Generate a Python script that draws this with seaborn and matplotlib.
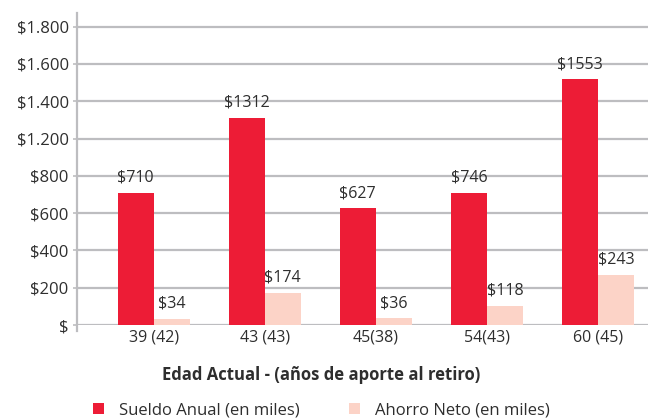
import numpy as np
import pandas as pd
import matplotlib
matplotlib.use("Agg")
import matplotlib.pyplot as plt
import seaborn as sns
from matplotlib.patches import Patch

# ---- data ----
categories = ["39 (42)", "43 (43)", "45(38)", "54(43)", "60 (45)"]
sueldo_bar = [710, 1312, 627, 710, 1519]      # drawn bar heights (as read)
ahorro_bar = [34, 174, 36, 102, 270]
sueldo_lbl = ["$710", "$1312", "$627", "$746", "$1553"]
ahorro_lbl = ["$34", "$174", "$36", "$118", "$243"]
series_names = ["Sueldo Anual (en miles)", "Ahorro Neto (en miles)"]
ytick_values = [0, 200, 400, 600, 800, 1200, 1400, 1600, 1800]
ytick_labels = ["$", "$200", "$400", "$600", "$800", "$1.200", "$1.400", "$1.600", "$1.800"]
xlabel_text = "Edad Actual - (años de aporte al retiro)"

RED = "#ED1C36"
PINK = "#FCD3C7"
TXT = "#2E2E2E"
GRID = "#BDBDC0"

sns.set_theme(style="white")
plt.rcParams["font.family"] = ["Open Sans", "DejaVu Sans"]

df = pd.DataFrame({
    "cat": categories * 2,
    "serie": [series_names[0]] * 5 + [series_names[1]] * 5,
    "val": sueldo_bar + ahorro_bar,
})

fig = plt.figure(figsize=(6.48, 4.19), dpi=100)
ax = fig.add_axes([77 / 648, 1 - 325 / 419, 1 - 77 / 648, (325 - 13) / 419])


def fwd(v):
    v = np.asarray(v, dtype=float)
    return np.where(v <= 800, v, np.where(v < 1200, 800 + (v - 800) / 2, v - 200))


def inv(u):
    u = np.asarray(u, dtype=float)
    return np.where(u <= 800, u, np.where(u < 1000, 800 + 2 * (u - 800), u + 200))


ax.set_yscale("function", functions=(fwd, inv))

sns.barplot(data=df, x="cat", y="val", hue="serie", order=categories,
            hue_order=series_names, palette=[RED, PINK], width=0.65,
            saturation=1, ax=ax, legend=False, errorbar=None)

for bar in ax.patches:
    bar.set_edgecolor("none")
    bar.set_zorder(3)

for cont, lbls in zip(ax.containers, [sueldo_lbl, ahorro_lbl]):
    for bar, lbl in zip(cont, lbls):
        ax.annotate(lbl, (bar.get_x() + bar.get_width() / 2, bar.get_height()),
                    xytext=(0, 15), textcoords="offset pixels",
                    ha="center", va="center", fontsize=11.5, color=TXT, zorder=5)

ax.set_xlim(-0.69, 4.45)
ax.set_ylim(0, 1873)
ax.set_yticks(ytick_values)
ax.set_yticklabels(ytick_labels)
ax.yaxis.grid(True, color=GRID, linewidth=1.6, zorder=0)
ax.set_axisbelow(True)
ax.tick_params(axis="y", length=3, width=1.2, color=GRID, labelsize=12,
               labelcolor=TXT, pad=3, left=True)
ax.tick_params(axis="x", length=0, labelsize=11.5, labelcolor=TXT, pad=3)
for s in ["top", "right", "bottom"]:
    ax.spines[s].set_visible(False)
ax.spines["left"].set_color(GRID)
ax.spines["left"].set_linewidth(1.6)
ax.spines["left"].set_bounds(-30, 1873)
ax.set_xlabel("")
ax.set_ylabel("")

fig.text(321 / 648, 1 - 375 / 419, xlabel_text, ha="center", va="center",
         fontsize=12, fontweight="bold", color=TXT)

handles = [Patch(facecolor=RED, edgecolor="none"), Patch(facecolor=PINK, edgecolor="none")]
fig.legend(handles, series_names, loc="center left",
           bbox_to_anchor=(93 / 648, 1 - 410 / 419), ncol=2, frameon=False,
           fontsize=12, labelcolor=TXT, handlelength=0.65, handleheight=0.65,
           handletextpad=0.9, columnspacing=3.0, borderaxespad=0, borderpad=0)

fig.savefig("out.png", dpi=100)
